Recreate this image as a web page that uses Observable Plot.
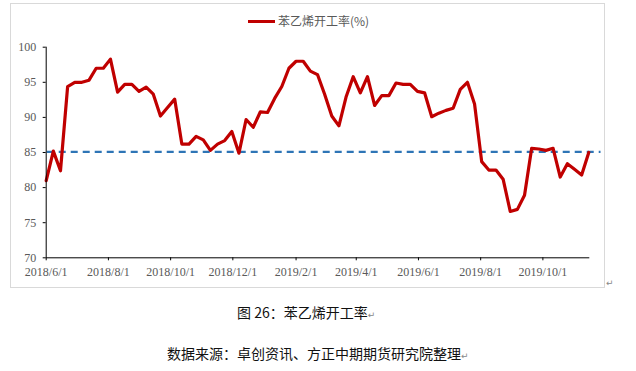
<!DOCTYPE html>
<html><head><meta charset="utf-8">
<script src="https://cdn.jsdelivr.net/npm/d3@7"></script>
<script src="https://cdn.jsdelivr.net/npm/@observablehq/plot@0.6"></script>
<style>
body{margin:0;width:636px;height:371px;position:relative;background:#fff;overflow:hidden;font-family:"Noto Sans CJK SC","Noto Sans",sans-serif;}
#box{position:absolute;left:10px;top:3px;width:593px;height:283px;border:1px solid #d9d9d9;}
#legend{height:20px;padding-top:10px;display:flex;justify-content:center;align-items:flex-start;padding-left:2px;}
#legend .sw{width:27px;height:3px;background:#C00000;margin-top:6px;margin-right:3px;}
#legend .lt{font-size:12px;line-height:14px;color:#595959;}
#chart svg{display:block;}
#chart svg text{fill:#595959;}
.cap{position:absolute;font-size:14px;line-height:20px;color:#111;white-space:nowrap;}
.ret{font-size:9px;color:#888;font-family:"DejaVu Sans",sans-serif;}
</style></head>
<body>
<div id="box">
  <div id="legend"><div class="sw"></div><div class="lt" id="legendText"></div></div>
  <div id="chart"></div>
</div>
<div class="ret" style="position:absolute;left:606px;top:278px;">↵</div>
<div class="cap" id="cap1" style="left:237px;top:302px;"></div>
<div class="cap" id="cap2" style="left:167px;top:343px;"></div>
<script>
// ---- data ----
const seriesName = "苯乙烯开工率(%)";
const startDate = "2018-06-01"; // weekly observations
const rates = [81.0, 85.2, 82.4, 94.4, 95.0, 95.0, 95.3, 97.0, 97.0, 98.3,
  93.6, 94.7, 94.7, 93.7, 94.3, 93.3, 90.2, 91.4, 92.6, 86.2,
  86.2, 87.3, 86.8, 85.3, 86.2, 86.7, 88.0, 84.9, 89.7, 88.6,
  90.8, 90.7, 92.7, 94.4, 97.0, 98.0, 98.0, 96.6, 96.1, 93.3,
  90.2, 88.8, 92.9, 95.8, 93.5, 95.8, 91.7, 93.1, 93.1, 94.9,
  94.7, 94.7, 93.7, 93.5, 90.1, 90.6, 91.0, 91.3, 94.0, 95.0,
  91.9, 83.7, 82.5, 82.5, 81.2, 76.6, 76.9, 78.9, 85.6, 85.5,
  85.3, 85.6, 81.5, 83.4, 82.6, 81.8, 85.0];
const refValue = 85.1;
const refStart = "2018-06-02";
const refEnd = "2019-11-27";
const xDomain = ["2018-06-01", "2019-11-16"];
const xTicks = ["2018-06-01", "2018-08-01", "2018-10-01", "2018-12-01", "2019-02-01", "2019-04-01", "2019-06-01", "2019-08-01", "2019-10-01"];
const xTickLabels = ["2018/6/1", "2018/8/1", "2018/10/1", "2018/12/1", "2019/2/1", "2019/4/1", "2019/6/1", "2019/8/1", "2019/10/1"];
const yTicks = [70, 75, 80, 85, 90, 95, 100];
const caption = "图 26：苯乙烯开工率";
const source = "数据来源：卓创资讯、方正中期期货研究院整理";

// ---- build ----
const parse = d3.utcParse("%Y-%m-%d");
const start = parse(startDate);
const data = rates.map((v, i) => ({date: d3.utcDay.offset(start, 7 * i), value: v}));
const tickDates = xTicks.map(parse);
const labelOf = new Map(tickDates.map((d, i) => [+d, xTickLabels[i]]));

const plot = Plot.plot({
  width: 593,
  height: 253,
  marginTop: 12.7,
  marginBottom: 29.7,
  marginLeft: 34.7,
  marginRight: 14.7,
  style: {fontFamily: "'Liberation Serif','Times New Roman',serif", fontSize: "12px", color: "#000", background: "transparent"},
  x: {type: "utc", domain: xDomain.map(parse), ticks: tickDates, tickSize: 3, tickPadding: 7, tickFormat: d => labelOf.get(+d), label: null},
  y: {domain: [70, 100], ticks: yTicks, tickSize: 3, tickPadding: 7, label: null},
  marks: [
    Plot.ruleY([refValue], {x1: parse(refStart), x2: parse(refEnd), stroke: "#2E75B6", strokeWidth: 2.2, strokeDasharray: "7,5"}),
    Plot.lineY(data, {x: "date", y: "value", stroke: "#000", strokeOpacity: 0.28, strokeWidth: 3.5, dx: 1.2, dy: 1.8, strokeLinejoin: "round", ariaLabel: "shadow"}),
    Plot.lineY(data, {x: "date", y: "value", stroke: "#C00000", strokeWidth: 3.2, strokeLinejoin: "round", strokeLinecap: "round"}),
    Plot.ruleY([70], {stroke: "#000", strokeWidth: 1}),
    Plot.ruleX([parse(xDomain[0])], {stroke: "#000", strokeWidth: 1})
  ]
});
document.getElementById("chart").appendChild(plot);
const sh = plot.querySelector('[aria-label="shadow"]');
if (sh) sh.style.filter = "blur(1.2px)";
document.getElementById("legendText").textContent = seriesName;
document.getElementById("cap1").innerHTML = caption + '<span class="ret">↵</span>';
document.getElementById("cap2").innerHTML = source + '<span class="ret">↵</span>';
</script>
</body></html>
